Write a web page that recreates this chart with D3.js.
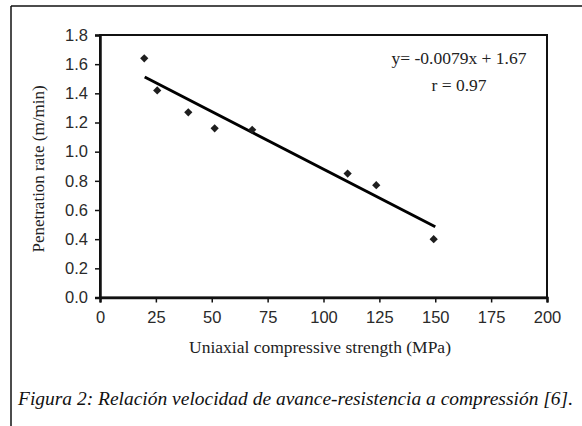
<!DOCTYPE html>
<html><head><meta charset="utf-8">
<script src="https://cdn.jsdelivr.net/npm/d3@7/dist/d3.min.js"></script>
<style>
html,body{margin:0;padding:0;background:#fff;}
svg{display:block;}
</style></head>
<body>
<svg id="chart" width="582" height="426"></svg>
<script>
// Data
const ucs = [19.8, 25.6, 39.5, 51.3, 68.1, 110.8, 123.6, 149.3];
const penetration = [1.64, 1.42, 1.27, 1.16, 1.15, 0.85, 0.77, 0.40];
const trendX = [20, 150];
const trendY = [1.512, 0.485];
const xTicks = [0, 25, 50, 75, 100, 125, 150, 175, 200];
const yTicks = [0.0, 0.2, 0.4, 0.6, 0.8, 1.0, 1.2, 1.4, 1.6, 1.8];
const equationLines = ["y= -0.0079x + 1.67", "r = 0.97"];
const xTitle = "Uniaxial compressive strength (MPa)";
const yTitle = "Penetration rate (m/min)";
const caption = "Figura 2: Relación velocidad de avance-resistencia a compressión [6].";

const SERIF = "Liberation Serif";
const SANS = "Liberation Sans";

const svg = d3.select("#chart");
const L = 100, R = 547, T = 35, B = 297.5;
const x = d3.scaleLinear().domain([0, 200]).range([L, R]);
const y = d3.scaleLinear().domain([0, 1.8]).range([B, T]);

// outer frame (top + left)
svg.append("line").attr("x1", 11).attr("x2", 582).attr("y1", 6).attr("y2", 6)
  .attr("stroke", "#111").attr("stroke-width", 1.5);
svg.append("line").attr("x1", 11).attr("x2", 11).attr("y1", 6).attr("y2", 426)
  .attr("stroke", "#111").attr("stroke-width", 1.5);

// plot box
svg.append("rect").attr("x", L).attr("y", T).attr("width", R - L).attr("height", B - T)
  .attr("fill", "#fff").attr("stroke", "#111").attr("stroke-width", 2);

// axes
const yAxis = d3.axisLeft(y).tickValues(yTicks).tickFormat(d3.format(".1f")).tickSize(5).tickPadding(7);
const xAxis = d3.axisBottom(x).tickValues(xTicks).tickFormat(d3.format("d")).tickSize(5).tickPadding(9);
const gy = svg.append("g").attr("transform", `translate(${L},0)`).call(yAxis);
const gx = svg.append("g").attr("transform", `translate(0,${B})`).call(xAxis);
[gx, gy].forEach(g => {
  g.attr("font-family", SANS).attr("font-size", 16.5);
  g.select(".domain").attr("stroke", "#111").attr("stroke-width", 2.5);
  g.selectAll(".tick line").attr("stroke", "#111").attr("stroke-width", 1.5);
  g.selectAll(".tick text").attr("fill", "#2a2a2a");
});

// trend line
svg.append("path")
  .datum(trendX.map((d, i) => [d, trendY[i]]))
  .attr("d", d3.line().x(d => x(d[0])).y(d => y(d[1])))
  .attr("fill", "none").attr("stroke", "#000").attr("stroke-width", 3);

// points (diamonds)
const sym = d3.symbol().type(d3.symbolSquare).size(34);
svg.append("g").selectAll("path").data(ucs).join("path")
  .attr("d", sym)
  .attr("transform", (d, i) => `translate(${x(d)},${y(penetration[i])}) rotate(45)`)
  .attr("fill", "#1e1e1e");

// equation text
svg.append("g").selectAll("text").data(equationLines).join("text")
  .attr("x", 459).attr("y", (d, i) => 64 + i * 27)
  .attr("text-anchor", "middle")
  .attr("font-family", SERIF).attr("font-size", 17.5).attr("fill", "#222")
  .text(d => d);

// axis titles
svg.append("text").attr("x", 320).attr("y", 353).attr("text-anchor", "middle")
  .attr("font-family", SERIF).attr("font-size", 17.5).attr("fill", "#222").text(xTitle);
svg.append("text").attr("transform", "translate(44,169) rotate(-90)").attr("text-anchor", "middle")
  .attr("font-family", SERIF).attr("font-size", 17).attr("fill", "#222").text(yTitle);

// caption
svg.append("text").attr("x", 18).attr("y", 405)
  .attr("textLength", 555).attr("lengthAdjust", "spacingAndGlyphs")
  .attr("font-family", SERIF).attr("font-style", "italic").attr("font-size", 19).attr("fill", "#111")
  .text(caption);
</script>
</body></html>
